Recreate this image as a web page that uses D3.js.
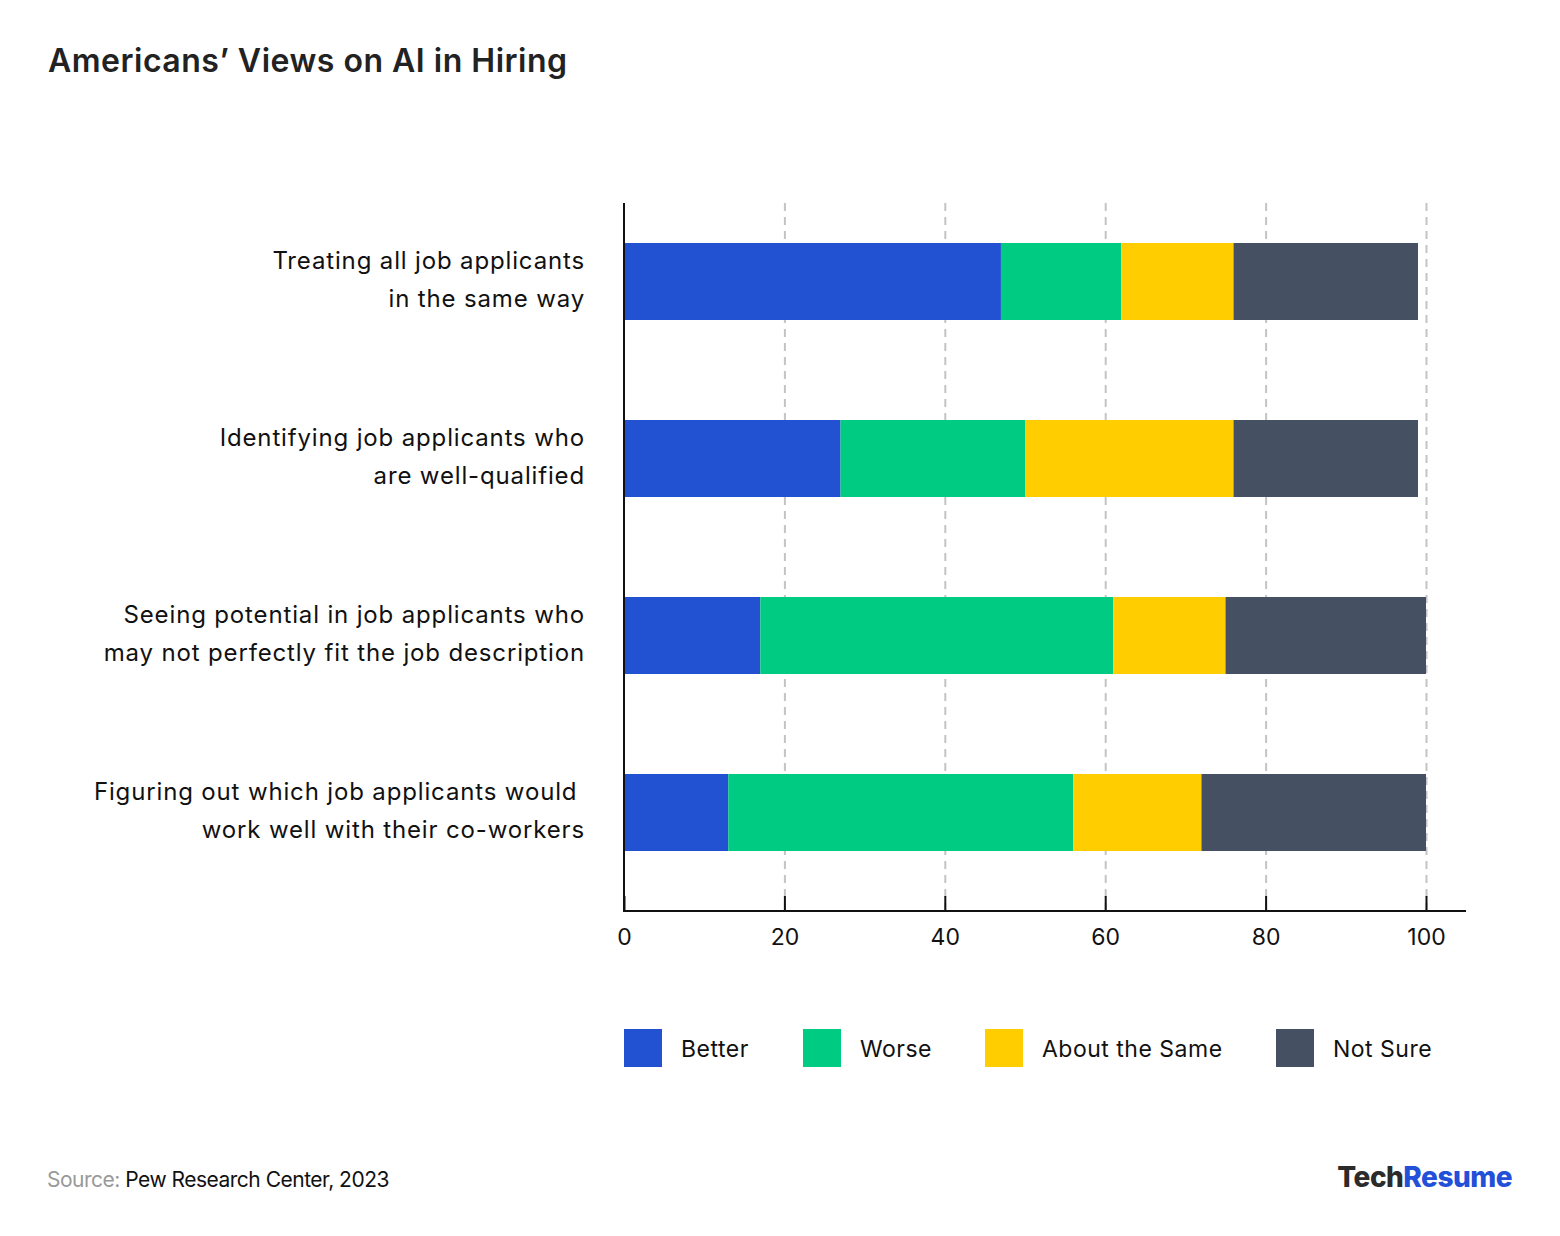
<!DOCTYPE html>
<html>
<head>
<meta charset="utf-8">
<script src="https://cdnjs.cloudflare.com/ajax/libs/d3/7.8.5/d3.min.js"></script>
<style>
  body { margin: 0; background: #fff; }
  svg { font-family: "Inter", "Lato", sans-serif; }
  .grid line { stroke: #c4c4c4; stroke-width: 2; stroke-dasharray: 8 6; }
  .grid path.domain { display: none; }
  .xaxis text { fill: #111; font-size: 23px; }
  .xaxis line, .xaxis path { stroke: #111; stroke-width: 2; }
</style>
</head>
<body>
<svg width="1560" height="1236"></svg>
<script>
// categories (two lines each)
var categories = [
  ["Treating all job applicants", "in the same way"],
  ["Identifying job applicants who", "are well-qualified"],
  ["Seeing potential in job applicants who", "may not perfectly fit the job description"],
  ["Figuring out which job applicants would ", "work well with their co-workers"]
];
var seriesNames = ["Better", "Worse", "About the Same", "Not Sure"];
var better = [47, 27, 17, 13];
var worse = [15, 23, 44, 43];
var aboutSame = [14, 26, 14, 16];
var notSure = [23, 23, 25, 28];
var tickValues = [0, 20, 40, 60, 80, 100];
var colors = ["#2251d1", "#00cb83", "#ffcd00", "#465063"];

var svg = d3.select("svg");

var rows = categories.map(function(c, i) {
  return { key: i, Better: better[i], Worse: worse[i], "About the Same": aboutSame[i], "Not Sure": notSure[i] };
});
var stacked = d3.stack().keys(seriesNames)(rows);

var xScale = d3.scaleLinear().domain([0, 100]).range([624, 1426]);
var yScale = d3.scaleBand().domain(d3.range(categories.length))
  .range([193, 901]).paddingInner(0.565).paddingOuter(0.2825);
var color = d3.scaleOrdinal().domain(seriesNames).range(colors);

// title
svg.append("text")
  .attr("x", 48).attr("y", 72)
  .attr("font-size", 32).attr("font-weight", 600).attr("fill", "#222")
  .attr("letter-spacing", 0.5)
  .text("Americans\u2019 Views on AI in Hiring");

// gridlines
svg.append("g").attr("class", "grid")
  .attr("transform", "translate(0,911)")
  .call(d3.axisBottom(xScale).tickValues([20, 40, 60, 80, 100]).tickSize(-708).tickFormat(""));

// bars
svg.append("g").selectAll("g")
  .data(stacked)
  .enter().append("g")
    .attr("fill", function(d) { return color(d.key); })
  .selectAll("rect")
  .data(function(d) { return d; })
  .enter().append("rect")
    .attr("x", function(d) { return xScale(d[0]); })
    .attr("y", function(d) { return yScale(d.data.key); })
    .attr("width", function(d) { return xScale(d[1]) - xScale(d[0]); })
    .attr("height", yScale.bandwidth());

// x axis
var xAxis = svg.append("g").attr("class", "xaxis")
  .attr("transform", "translate(0,911)")
  .call(d3.axisBottom(xScale).tickValues(tickValues).tickSize(-15).tickSizeOuter(0).tickPadding(12));
xAxis.select("path.domain").attr("d", "M624,0H1466");
xAxis.selectAll("text").attr("dy", "0.95em").attr("font-family", "Inter, sans-serif");

// y axis line
svg.append("line")
  .attr("x1", 624).attr("x2", 624).attr("y1", 203).attr("y2", 912)
  .attr("stroke", "#111").attr("stroke-width", 2);

// category labels
categories.forEach(function(lines, i) {
  var cy = yScale(i) + yScale.bandwidth() / 2;
  var t = svg.append("text")
    .attr("text-anchor", "end")
    .attr("font-size", 24).attr("fill", "#111")
    .attr("letter-spacing", 0.85);
  lines.forEach(function(l, j) {
    t.append("tspan").attr("x", 585).attr("y", cy - 13 + j * 38).text(l);
  });
});

// legend
var legendX = [624, 803, 985, 1276];
var legend = svg.append("g").selectAll("g")
  .data(seriesNames)
  .enter().append("g")
    .attr("transform", function(d, i) { return "translate(" + legendX[i] + ",1029)"; });
legend.append("rect").attr("width", 38).attr("height", 38)
  .attr("fill", function(d) { return color(d); });
legend.append("text").attr("x", 57).attr("y", 28)
  .attr("font-size", 23).attr("fill", "#111").attr("letter-spacing", 0.5)
  .text(function(d) { return d; });

// source
var src = svg.append("text").attr("x", 47).attr("y", 1187)
  .attr("font-size", 21).attr("letter-spacing", -0.5);
src.append("tspan").attr("fill", "#999").text("Source: ");
src.append("tspan").attr("fill", "#111").text("Pew Research Center, 2023");

// logo
var logo = svg.append("text").attr("x", 1512).attr("y", 1187)
  .attr("text-anchor", "end").attr("font-size", 28).attr("font-weight", 800)
  .attr("letter-spacing", -0.5);
logo.append("tspan").attr("fill", "#2b2b2b").text("Tech");
logo.append("tspan").attr("fill", "#2350d8").text("Resume");
</script>
</body>
</html>
